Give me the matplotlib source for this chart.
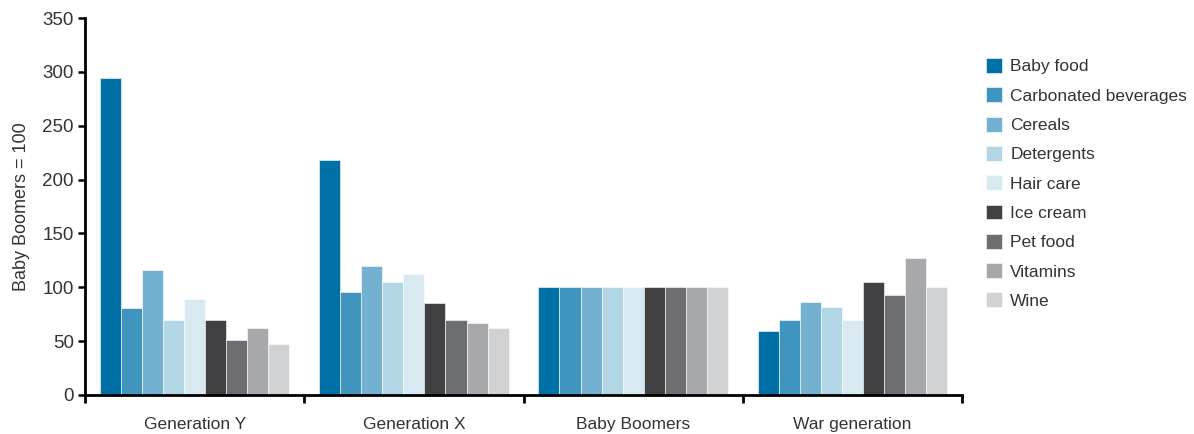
import numpy as np
import matplotlib
matplotlib.use("Agg")
import matplotlib.pyplot as plt

plt.rcParams['font.family'] = ['Liberation Sans', 'DejaVu Sans']

generations = ["Generation Y", "Generation X", "Baby Boomers", "War generation"]
products = ["Baby food", "Carbonated beverages", "Cereals", "Detergents", "Hair care",
            "Ice cream", "Pet food", "Vitamins", "Wine"]

baby_food = [294, 218, 100, 59]
carbonated_beverages = [81, 96, 100, 70]
cereals = [116, 120, 100, 86]
detergents = [70, 105, 100, 82]
hair_care = [89, 112, 100, 70]
ice_cream = [70, 85, 100, 105]
pet_food = [51, 70, 100, 93]
vitamins = [62, 67, 100, 127]
wine = [47, 62, 100, 100]

series = [baby_food, carbonated_beverages, cereals, detergents, hair_care,
          ice_cream, pet_food, vitamins, wine]
colors = ["#0071a6", "#3f95be", "#74b1d0", "#b3d6e6", "#d9e9f2",
          "#414143", "#6d6e71", "#a7a8ab", "#d1d2d4"]

text_color = "#333333"

fig = plt.figure(figsize=(11.94, 4.34), dpi=100)
ax = fig.add_axes([0.0712, 0.0899, 0.7345, 0.8686])

n = len(products)
bar_w = 0.096
x = np.arange(len(generations))
for i, (vals, col, name) in enumerate(zip(series, colors, products)):
    offs = (i - (n - 1) / 2) * bar_w
    ax.bar(x + offs, vals, width=bar_w, color=col, label=name,
           edgecolor="white", linewidth=0.4)

ax.set_xlim(-0.5, len(generations) - 0.5)
ax.set_ylim(0, 350)
ax.set_yticks(range(0, 351, 50))
ax.tick_params(axis='y', direction='out', length=5, width=1.8, labelsize=13.5,
               colors="black", labelcolor=text_color, pad=3)

ax.set_xticks(x)
ax.set_xticklabels(generations)
ax.set_xticks(np.arange(-0.5, len(generations)), minor=True)
ax.tick_params(axis='x', which='major', length=0, labelsize=12.5, labelcolor=text_color, pad=16)
ax.tick_params(axis='x', which='minor', direction='out', length=6, width=2, colors="black")

for side in ("top", "right"):
    ax.spines[side].set_visible(False)
for side in ("left", "bottom"):
    ax.spines[side].set_linewidth(2)

ax.set_ylabel("Baby Boomers = 100", fontsize=13, color=text_color, labelpad=9)

leg = fig.legend(loc="upper left", bbox_to_anchor=(986 / 1194, 1 - 58 / 434), frameon=False,
                 fontsize=12.5, handlelength=0.95, handleheight=0.95, handletextpad=0.45,
                 labelspacing=0.74, borderaxespad=0, borderpad=0)
for t in leg.get_texts():
    t.set_color(text_color)

fig.savefig("out.png", dpi=100)
